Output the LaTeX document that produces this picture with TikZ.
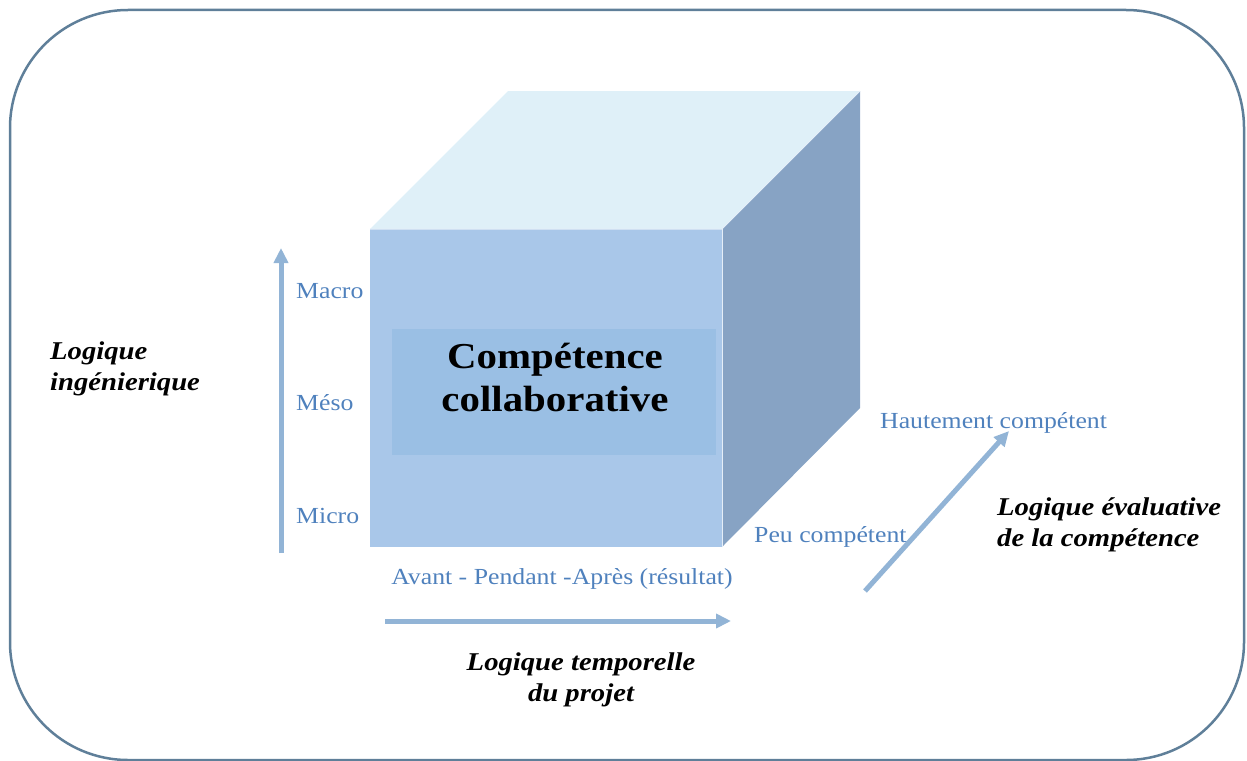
\documentclass[tikz,border=0pt]{standalone}
\usepackage{fontspec}
\setmainfont{Liberation Serif}[FakeStretch=1.12]
\usetikzlibrary{arrows.meta}
\definecolor{framec}{HTML}{5F7F99}
\definecolor{labc}{HTML}{4F81BD}
\definecolor{arrc}{HTML}{92B4D6}
\definecolor{frontc}{HTML}{A9C7E9}
\definecolor{topc}{HTML}{DFF0F8}
\definecolor{rightc}{HTML}{87A3C4}
\definecolor{innerc}{HTML}{9ABFE4}
\tikzset{
  frame/.style={draw=framec, line width=2.5pt, rounded corners=118pt},
  face/.style={draw=white!70!frontc, line width=1pt},
  axis/.style={draw=arrc, line width=5pt, -{Triangle[length=15pt,width=14pt]}},
  lab/.style={text=labc, font=\fontsize{23}{27}\selectfont, inner sep=0pt},
  title/.style={text=black, font=\fontsize{25.6}{31}\selectfont\bfseries\itshape, inner sep=0pt},
  big/.style={text=black, font=\fontsize{36.5}{43}\selectfont\bfseries, align=center, inner sep=0pt}
}
\begin{document}
\begin{tikzpicture}[x=1pt,y=-1pt]
\useasboundingbox (0,0) rectangle (1247,760);
\draw[frame] (10,10) rectangle (1244,760);
% cube
\fill[topc] (370,229) -- (722,229) -- (860,91) -- (508,91) -- cycle;
\fill[rightc] (722,229) -- (860,91) -- (860,408) -- (722,547) -- cycle;
\fill[frontc] (370,229) rectangle (722,547);
\draw[face] (370,229) -- (722,229) -- (860,91);
\draw[face] (722,229) -- (722,547);
\fill[innerc] (392,329) rectangle (716,455);
\node[big] (cc) at (555,377) {Compétence\\collaborative};
% axes
\coordinate (v0) at (281,553);
\coordinate (v1) at (281,248);
\coordinate (h0) at (385,621);
\coordinate (h1) at (731,621);
\coordinate (d0) at (865,591);
\coordinate (d1) at (1009,431);
\draw[axis] (v0) -- (v1);
\draw[axis] (h0) -- (h1);
\draw[axis] (d0) -- (d1);
% labels
\node[lab, anchor=west] (macro) at (296,291) {Macro};
\node[lab, anchor=west] (meso) at (296,403) {Méso};
\node[lab, anchor=west] (micro) at (296,516) {Micro};
\node[lab] (apa) at (562,579) {Avant - Pendant -Après (résultat)};
\node[lab, anchor=west] (peu) at (754,537) {Peu compétent};
\node[lab, anchor=west] (haut) at (880,423) {Hautement compétent};
\node[title, anchor=west, align=left] (ling) at (50,369) {Logique\\ingénierique};
\node[title, align=center] (ltemp) at (581,680) {Logique temporelle\\du projet};
\node[title, anchor=west, align=left] (leval) at (997,525) {Logique évaluative\\de la compétence};
\end{tikzpicture}
\end{document}
